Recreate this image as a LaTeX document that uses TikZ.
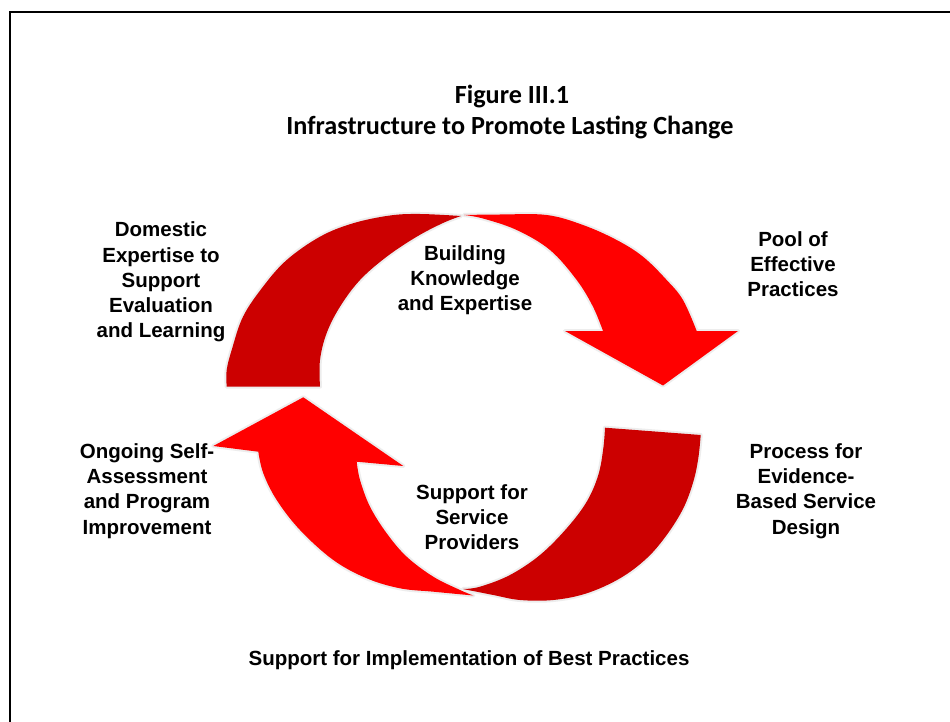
\documentclass[tikz,border=0pt]{standalone}
\usepackage{fontspec}
\setmainfont{Liberation Sans}
\newfontfamily\titlefont{Carlito}
\begin{document}
\begin{tikzpicture}[x=1pt,y=-1pt,
  lbl/.style={font=\fontsize{20.5}{25.2}\selectfont\bfseries, align=center, inner sep=0pt},
  ttl/.style={font=\titlefont\fontsize{26.2}{31}\selectfont\bfseries, inner sep=0pt},
  halo/.style={preaction={draw=black!7, line width=4pt, line join=round}},
  darkarc/.style={fill=darkred, halo},
  redarrow/.style={fill=brightred, halo}]
\definecolor{darkred}{HTML}{CC0000}
\definecolor{brightred}{HTML}{FF0000}
\useasboundingbox (0,0) rectangle (950,722);
\fill[white] (0,0) rectangle (950,722);
% frame
\draw[line width=2pt] (10,722) -- (10,12) -- (950,12);

% bottom-left red arrow (up)
\fill[redarrow] (303.3,397.3) -- (403.3,466) -- (356.7,461.7)
  -- plot[smooth, tension=0.6] coordinates {(356.7,461.7) (360,480) (370,506.7) (386.7,533.3) (406.7,556.7) (433.3,576.7) (460,590) (473.3,595.5)}
  -- plot[smooth, tension=0.6] coordinates {(473.3,595.5) (433.3,591.7) (400,588.3) (366.7,578.3) (333.3,560) (300,530) (276.7,500) (263.3,473.3) (258.3,451.7)}
  -- (213.3,446) -- cycle;

% top-right red arrow (down)
\fill[redarrow] (464,215)
  -- plot[smooth, tension=0.6] coordinates {(464,215) (500,214.5) (546.7,215) (583,225) (616.7,240) (643,256.7) (666.7,280) (683,300) (696.7,331)}
  -- (738,331) -- (663,385.5) -- (565,331) -- (603,331)
  -- plot[smooth, tension=0.6] coordinates {(603,331) (593,306.7) (576.7,280) (550,250) (516.7,230) (483,218.5) (464,215)}
  -- cycle;

% top-left dark arc
\fill[darkarc] (226.7,386.7) -- (320,386.7)
  -- plot[smooth, tension=0.6] coordinates {(320,386.7) (320,360) (326.7,333) (340,306.7) (360,280) (386.7,256.7) (416.7,236.7) (443,223) (461,216)}
  -- plot[smooth, tension=0.6] coordinates {(461,216) (420,214) (390,215.5) (353,223.3) (320,236.7) (286.7,260) (263,286.7) (243,316.7) (231.7,350) (226.7,370) (226.7,386.7)}
  -- cycle;

% bottom-right dark arc
\fill[darkarc] (605,427.7) -- (700.7,435)
  -- plot[smooth, tension=0.6] coordinates {(700.7,435) (698.3,458.3) (693.3,481.7) (683.3,508.3) (666.7,535) (646.7,558.3) (620,578.3) (586.7,593.3) (553.3,600) (520,600) (493.3,595) (463,589)}
  -- plot[smooth, tension=0.6] coordinates {(463,589) (480,586.7) (510,575) (540,555) (566.7,528.3) (586.7,501.7) (598.3,475) (603.3,448.3) (605,427.7)}
  -- cycle;

% titles
\node[ttl] (t1) at (512,97) {Figure III.1};
\node[ttl] (t2) at (510,128) {Infrastructure to Promote Lasting Change};

% labels
\node[lbl] (dom) at (161,282) {Domestic\\Expertise to\\Support\\Evaluation\\and Learning};
\node[lbl] (pool) at (793,264) {Pool of\\Effective\\Practices};
\node[lbl] (build) at (465,280) {Building\\Knowledge\\and Expertise};
\node[lbl] (proc) at (806,491) {Process for\\Evidence-\\Based Service\\Design};
\node[lbl] (supp) at (472,517) {Support for\\Service\\Providers};
\node[lbl] (ongo) at (147,491) {Ongoing Self-\\Assessment\\and Program\\Improvement};
\node[lbl] (best) at (469,660) {Support for Implementation of Best Practices};
\end{tikzpicture}
\end{document}
